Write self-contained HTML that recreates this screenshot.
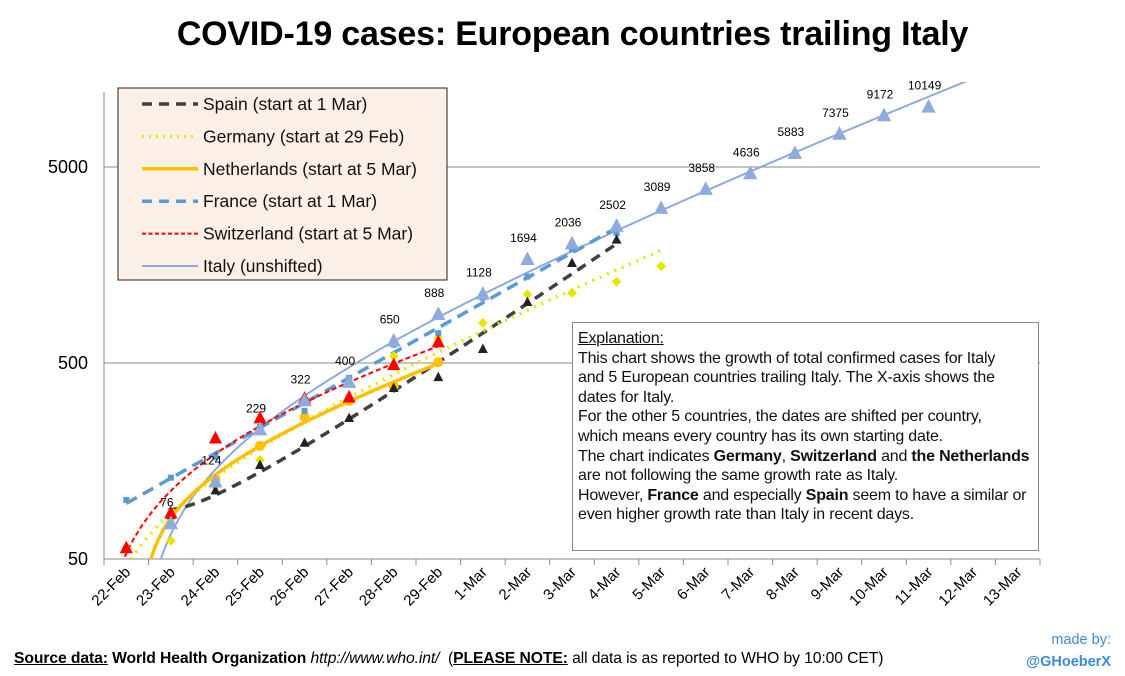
<!DOCTYPE html>
<html><head><meta charset="utf-8">
<style>
body{margin:0;background:#fff;width:1125px;height:676px;overflow:hidden;font-family:"Liberation Sans",sans-serif;}
#title{position:absolute;left:0;width:1145px;top:15px;text-align:center;font-weight:bold;font-size:34px;color:#000;letter-spacing:-0.2px}
#expl{position:absolute;left:572px;top:322px;width:455px;height:215px;border:1px solid #888;background:#fff;padding:6px 5px;font-size:16px;line-height:19.6px;color:#111;white-space:nowrap;letter-spacing:-0.2px}
#foot{position:absolute;left:14px;top:650px;font-size:15.7px;color:#000;letter-spacing:-0.1px}
#made{position:absolute;right:14px;top:629px;font-size:14.5px;color:#3d8ad6;text-align:right;line-height:22px}
</style></head><body>
<div id="title">COVID-19 cases: European countries trailing Italy</div>
<svg id="chart" width="1125" height="676" style="position:absolute;left:0;top:0"></svg>
<div id="expl"><u>Explanation:</u><br>This chart shows the growth of total confirmed cases for Italy<br>and 5 European countries trailing Italy. The X-axis shows the<br>dates for Italy.<br>For the other 5 countries, the dates are shifted per country,<br>which means every country has its own starting date.<br>The chart indicates <b>Germany</b>, <b>Switzerland</b> and <b>the Netherlands</b><br>are not following the same growth rate as Italy.<br>However, <b>France</b> and especially <b>Spain</b> seem to have a similar or<br>even higher growth rate than Italy in recent days.</div>
<div id="foot"><b><u>Source data:</u> World Health Organization</b> <i>http://www.who.int/</i> &nbsp;(<b><u>PLEASE NOTE:</u></b> all data is as reported to WHO by 10:00 CET)</div>
<div id="made">made by:<br><b>@GHoeberX</b></div>
<script>
const categories=["22-Feb","23-Feb","24-Feb","25-Feb","26-Feb","27-Feb","28-Feb","29-Feb","1-Mar","2-Mar","3-Mar","4-Mar","5-Mar","6-Mar","7-Mar","8-Mar","9-Mar","10-Mar","11-Mar","12-Mar","13-Mar"];
const yTicks=[50,500,5000];
const italy=[null,76,124,229,322,400,650,888,1128,1694,2036,2502,3089,3858,4636,5883,7375,9172,10149];
const spain=[null,84,112,151,196,262,373,424,590,1024,1620,2130];
const germany=[57,62,117,160,262,330,542,670,800,1120,1140,1300,1560];
const netherlands=[null,82,128,189,265,320,380,505];
const france=[100,130,166,236,285,420,620,710,1077,1380,1900,2300];
const switzerland=[57,86,207,262,330,335,490,640];

const svg=document.getElementById('chart');const NS='http://www.w3.org/2000/svg';
const L=104,R=1040,T=92,B=559,step=(R-L)/categories.length;
const x=i=>L+step*(i+0.5);
const y=v=>B-196*(Math.log10(v)-Math.log10(50));
function mk(tag,at,parent){const e=document.createElementNS(NS,tag);for(const k in at)e.setAttribute(k,at[k]);(parent||svg).appendChild(e);return e;}
const defs=mk('defs',{});const cp=mk('clipPath',{id:'cp'},defs);mk('rect',{x:L,y:T-10,width:R-L,height:B-T+10},cp);
yTicks.forEach(t=>{
  if(t>50){const g=mk('line',{x1:L,x2:R,y1:y(t),y2:y(t),stroke:'#888','stroke-width':1});
  
  }
  const tx=mk('text',{x:L-16,y:y(t)+6,'text-anchor':'end','font-size':18,fill:'#000'});tx.textContent=t;
  
  
});
mk('line',{x1:L,x2:L,y1:T,y2:B,stroke:'#888'});
mk('line',{x1:L,x2:R,y1:B,y2:B,stroke:'#888'});
for(let i=0;i<=categories.length;i++)mk('line',{x1:L+step*i,x2:L+step*i,y1:B,y2:B+6,stroke:'#888'});
categories.forEach((c,i)=>{const cx=x(i)+5,cy=B+14;
  const t=mk('text',{x:cx,y:cy,'text-anchor':'end','font-size':15,fill:'#000',transform:`rotate(-45 ${cx} ${cy})`});t.textContent=c;
  
  });
function fit(arr,type){const first=arr.findIndex(v=>v);
  const basis=type==='lnk'?(i=>[1,Math.log(i-first+0.7),i]):(i=>[1,i,i*i]);
  const n=3;const M=[];for(let r=0;r<n;r++)M.push(new Array(n+1).fill(0));
  arr.forEach((v,i)=>{if(!v)return;const b=basis(i),lv=Math.log10(v);for(let r=0;r<n;r++){for(let c=0;c<n;c++)M[r][c]+=b[r]*b[c];M[r][n]+=b[r]*lv;}});
  for(let c=0;c<n;c++)for(let r=c+1;r<n;r++){const f=M[r][c]/M[c][c];for(let k=c;k<=n;k++)M[r][k]-=f*M[c][k];}
  const co=new Array(n).fill(0);for(let r=n-1;r>=0;r--){let s=M[r][n];for(let k=r+1;k<n;k++)s-=M[r][k]*co[k];co[r]=s/M[r][r];}
  return t=>{if(type==='lnk'&&t-first+0.7<=0.001)return -5;const b=basis(t);return b.reduce((s,v,k)=>s+v*co[k],0);};}
function curve(arr,type,a,b,st,w,dash,name){const f=fit(arr,type);let d='';
  for(let t=a;t<=b+1e-6;t+=0.02){const lv=f(t);if(lv<1.3){d='';continue;}
    d+=(d?'L':'M')+x(t).toFixed(1)+','+(B-196*(lv-Math.log10(50))).toFixed(1);}
  const p=mk('path',{d:d,fill:'none',stroke:st,'stroke-width':w,'stroke-dasharray':dash||'none','clip-path':'url(#cp)'});
  
  }
function tri(cx,cy,s,col){return mk('path',{d:`M${cx},${cy-s*0.6}L${cx+s*0.55},${cy+s*0.45}L${cx-s*0.55},${cy+s*0.45}Z`,fill:col,'clip-path':'url(#cp)'});}
curve(italy,'lnk',0,19.3,'#8faadc',2,null,'italy-trendline');
curve(spain,'lnk',0.95,11,'#404040',3.5,'10,7','spain-trendline');
curve(germany,'lnk',-1,12,'#e6e600',3.5,'2,6','germany-trendline');
curve(netherlands,'lnk',0,7,'#ffc000',3.5,null,'netherlands-trendline');
curve(france,'poly',0,11,'#5b9bd5',3.5,'12,7','france-trendline');
curve(switzerland,'lnk',-1,7,'#ff0000',2,'5,3','switzerland-trendline');
germany.forEach((v,i)=>{if(!v)return;const e=mk('rect',{x:x(i)-3.5,y:y(v)-3.5,width:7,height:7,fill:'#e6e600',transform:`rotate(45 ${x(i)} ${y(v)})`,'clip-path':'url(#cp)'});
  
  });
netherlands.forEach((v,i)=>{if(!v)return;const e=mk('circle',{cx:x(i),cy:y(v),r:5,fill:'#ffc000'});
  
  });
france.forEach((v,i)=>{const e=mk('rect',{x:x(i)-3,y:y(v)-3,width:6,height:6,fill:'#5b9bd5'});
  
  });
spain.forEach((v,i)=>{if(!v)return;const e=tri(x(i),y(v),9,'#222');
  
  });
switzerland.forEach((v,i)=>{const e=tri(x(i),y(v),12,'#ff0000');
  
  });
italy.forEach((v,i)=>{if(!v)return;const e=tri(x(i),y(v),13,'#8faadc');
  
  
  const t=mk('text',{x:x(i)-4,y:y(v)-17,'text-anchor':'middle','font-size':12,fill:'#000'});t.textContent=v;
  
  });
const lg=mk('g',{});
mk('rect',{x:118,y:88,width:329,height:192,fill:'#fbf0e8',stroke:'#222','stroke-width':1},lg);
const legNames=["Spain (start at 1 Mar)","Germany (start at 29 Feb)","Netherlands (start at 5 Mar)","France (start at 1 Mar)","Switzerland (start at 5 Mar)","Italy (unshifted)"];
const legStyle=[['#404040',3.5,'10,7'],['#e6e600',3,'2,5'],['#ffc000',3.5,null],['#5b9bd5',3.5,'10,7'],['#ff0000',2,'4,2.5'],['#8faadc',2,null]];
legNames.forEach((n,k)=>{const cy=104+k*32.4;
  mk('line',{x1:142,x2:198,y1:cy,y2:cy,stroke:legStyle[k][0],'stroke-width':legStyle[k][1],'stroke-dasharray':legStyle[k][2]||'none'},lg);
  const t=mk('text',{x:203,y:cy+6,'font-size':17.5,fill:'#111'},lg);t.textContent=n;
  
  });
</script>
</body></html>
